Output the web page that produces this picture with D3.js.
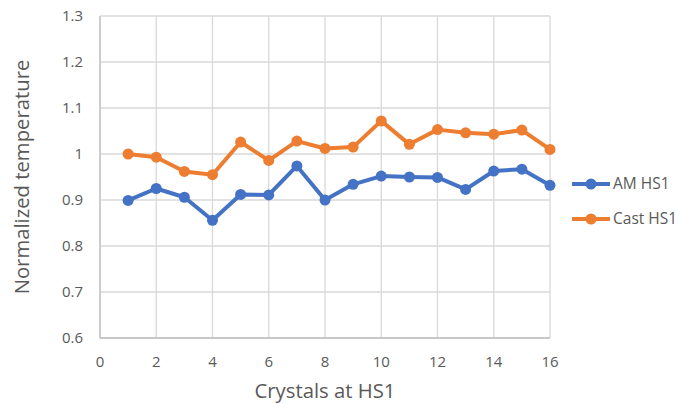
<!DOCTYPE html>
<meta charset="utf-8">
<head>
<style>
body { margin: 0; background: #fff; }
text { font-family: "Open Sans", "Liberation Sans", sans-serif; fill: #595959; }
.grid line { stroke: #d9d9d9; stroke-width: 1.3; }
</style>
</head>
<body>
<script src="https://d3js.org/d3.v7.min.js"></script>
<script>

var crystals = d3.range(1, 17);
var amHS1 = [0.899, 0.925, 0.906, 0.856, 0.912, 0.911, 0.974, 0.900, 0.934, 0.952, 0.950, 0.949, 0.923, 0.963, 0.967, 0.932];
var castHS1 = [1.000, 0.993, 0.962, 0.955, 1.026, 0.986, 1.028, 1.012, 1.015, 1.072, 1.021, 1.053, 1.046, 1.043, 1.052, 1.010];
var xTicks = [0, 2, 4, 6, 8, 10, 12, 14, 16];
var yTicks = [0.6, 0.7, 0.8, 0.9, 1, 1.1, 1.2, 1.3];

var series = [
  {name: "AM HS1", values: amHS1, color: "#4472C4"},
  {name: "Cast HS1", values: castHS1, color: "#ED7D31"}
];

var width = 678, height = 404;

var x = d3.scaleLinear().domain([0, 16]).range([100, 550]);
var y = d3.scaleLinear().domain([0.6, 1.3]).range([338, 16]);

var svg = d3.select("body").append("svg")
    .attr("width", width)
    .attr("height", height);

// gridlines
var grid = svg.append("g").attr("class", "grid");
grid.selectAll(".h").data(yTicks).enter().append("line")
    .attr("x1", x(0)).attr("x2", x(16))
    .attr("y1", function(d) { return y(d); })
    .attr("y2", function(d) { return y(d); });
grid.selectAll(".v").data(xTicks).enter().append("line")
    .attr("y1", y(0.6)).attr("y2", y(1.3))
    .attr("x1", function(d) { return x(d); })
    .attr("x2", function(d) { return x(d); });

// axis lines
svg.append("line").attr("x1", x(0)).attr("x2", x(16)).attr("y1", y(0.6)).attr("y2", y(0.6))
    .attr("stroke", "#bfbfbf").attr("stroke-width", 1.3);
svg.append("line").attr("x1", x(0)).attr("x2", x(0)).attr("y1", y(0.6)).attr("y2", y(1.3))
    .attr("stroke", "#bfbfbf").attr("stroke-width", 1.3);

// tick labels
svg.selectAll(".ylab").data(yTicks).enter().append("text")
    .attr("x", 83)
    .attr("y", function(d) { return y(d); })
    .attr("dy", "0.35em")
    .attr("text-anchor", "end")
    .style("font-size", "15px")
    .text(function(d) { return d; });

svg.selectAll(".xlab").data(xTicks).enter().append("text")
    .attr("x", function(d) { return x(d); })
    .attr("y", 362)
    .attr("dy", "0.35em")
    .attr("text-anchor", "middle")
    .style("font-size", "15px")
    .text(function(d) { return d; });

// axis titles
svg.append("text")
    .attr("x", x(8))
    .attr("y", 391)
    .attr("dy", "0.35em")
    .attr("text-anchor", "middle")
    .style("font-size", "20.3px")
    .text("Crystals at HS1");

svg.append("text")
    .attr("transform", "translate(22," + y(0.95) + ") rotate(-90)")
    .attr("dy", "0.35em")
    .attr("text-anchor", "middle")
    .style("font-size", "20.3px")
    .text("Normalized temperature");

// lines and markers
var line = d3.line()
    .x(function(d, i) { return x(crystals[i]); })
    .y(function(d) { return y(d); });

series.forEach(function(s) {
  svg.append("path")
      .attr("d", line(s.values))
      .attr("fill", "none")
      .attr("stroke", s.color)
      .attr("stroke-width", 4)
      .attr("stroke-linejoin", "round");
  svg.selectAll(null).data(s.values).enter().append("circle")
      .attr("cx", function(d, i) { return x(crystals[i]); })
      .attr("cy", function(d) { return y(d); })
      .attr("r", 5.5)
      .attr("fill", s.color);
});

// legend
var legend = svg.selectAll(".legend").data(series).enter().append("g")
    .attr("transform", function(d, i) { return "translate(572," + (184 + i * 35) + ")"; });
legend.append("line")
    .attr("x1", 0).attr("x2", 38)
    .attr("stroke", function(d) { return d.color; })
    .attr("stroke-width", 4);
legend.append("circle")
    .attr("cx", 19).attr("r", 5.5)
    .attr("fill", function(d) { return d.color; });
legend.append("text")
    .attr("x", 41)
    .attr("dy", "0.35em")
    .style("font-size", "15.5px")
    .text(function(d) { return d.name; });

</script>
</body>
